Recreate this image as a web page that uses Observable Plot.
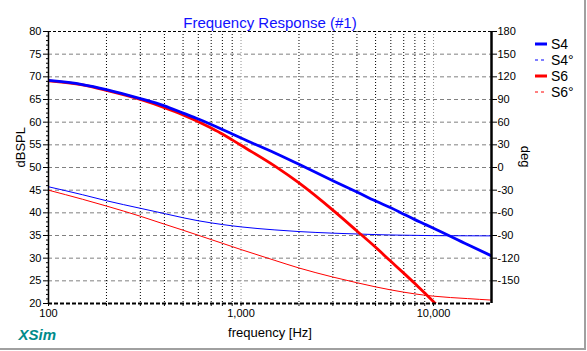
<!DOCTYPE html>
<html><head><meta charset="utf-8">
<script src="https://cdn.jsdelivr.net/npm/d3@7"></script>
<script src="https://cdn.jsdelivr.net/npm/@observablehq/plot@0.6"></script>
<style>
body{margin:0;background:#fff;font-family:Arial,"Liberation Sans",sans-serif}
#wrap{position:relative;width:587px;height:351px;overflow:hidden;background:#fff}
#frame{position:absolute;left:0;top:0;width:584px;height:348px;border-right:2px solid #a0a0a0;border-bottom:2px solid #a0a0a0;pointer-events:none}
.lg{position:absolute;left:535px;font-size:14px;line-height:16px;height:16px;display:flex;align-items:center;color:#000}
.lg svg{margin-right:4px}
</style></head><body>
<div id="wrap"><div id="frame"></div></div>
<script>
// ---- data ----
const freqs = [100,150,200,300,400,500,600,700,800,900,1000,1500,2000,3000,4000,5000,6000,7000,8000,9000,10000,15000,20000];
const s4Mag = [69.2,68.3,67.2,65.2,63.6,62.0,60.7,59.5,58.4,57.4,56.5,53.2,50.7,47.1,44.6,42.6,41.1,39.7,38.5,37.5,36.6,33.0,30.5];
const s4Phase = [-25.5,-36,-44,-54,-61,-66.5,-70.5,-73.3,-75.5,-77.2,-78.6,-82.6,-84.8,-86.9,-88,-88.8,-89.3,-89.6,-89.8,-90,-90.2,-90.4,-90.5];
const s6Phase = [-30,-42,-51,-64.5,-75,-83,-89.7,-95.4,-100.3,-104.7,-108.6,-123,-133,-145,-152.5,-158,-162,-165,-167.3,-169,-170.3,-173.5,-175.5];
const s6Freqs = [100,150,200,300,400,500,600,700,800,900,1000,1500,2000,3000,4000,5000,6000,7000,8000,9000,10000,10500];
const s6Mag = [69.1,68.2,67.0,65.0,63.2,61.6,60.1,58.7,57.4,56.1,54.9,50.3,46.6,40.6,36.0,32.4,29.3,26.7,24.4,22.3,20.4,19.5];

const dbTicks = [20,25,30,35,40,45,50,55,60,65,70,75,80];
const dbMinor = d3.range(20,81,1).filter(d => d % 5 !== 0);
const freqLabels = [100,1000,10000];
const gridFreqs = [200,300,400,500,600,700,800,900,2000,3000,4000,5000,6000,7000,8000,9000];
const decadeFreqs = [1000,10000];
const gridDb = [25,30,35,40,45,50,55,60,65,70,75];

const series = [
  {name:"S4", color:"#0000ff", width:3, dash:null},
  {name:"S4°", color:"#0000ff", width:1, dash:"3,3"},
  {name:"S6", color:"#ff0000", width:3, dash:null},
  {name:"S6°", color:"#ff0000", width:1, dash:"3,3"}
];

// phase (deg) shares the dB scale: -180..180 deg  <->  20..80 dB
const degToDb = d => 50 + d / 6;
const dbToDeg = d => (d - 50) * 6;

const magS4 = freqs.map((f,i) => ({f, v:s4Mag[i]}));
const magS6 = s6Freqs.map((f,i) => ({f, v:s6Mag[i]}));
const phS4 = freqs.map((f,i) => ({f, v:degToDb(s4Phase[i])}));
const phS6 = freqs.map((f,i) => ({f, v:degToDb(s6Phase[i])}));

const font = "Arial, 'Liberation Sans', sans-serif";

const chart = Plot.plot({
  width: 587, height: 351,
  marginLeft: 48, marginRight: 96, marginTop: 31, marginBottom: 48,
  style: {fontFamily: font, fontSize: "11px", color: "#000", background: "transparent", overflow: "visible"},
  x: {type: "log", domain: [100, 20000]},
  y: {domain: [20, 80]},
  marks: [
    Plot.ruleY(gridDb, {stroke: "#808080", strokeDasharray: "4,3", strokeWidth: 1}),
    Plot.ruleX(gridFreqs, {stroke: "#000", strokeDasharray: "1,2", strokeWidth: 1}),
    Plot.ruleX(decadeFreqs, {stroke: "#909090", strokeDasharray: "1,2", strokeWidth: 1}),
    Plot.line(phS6, {x: "f", y: "v", stroke: series[3].color, strokeWidth: 1, curve: "monotone-x", clip: true}),
    Plot.line(phS4, {x: "f", y: "v", stroke: series[1].color, strokeWidth: 1, curve: "monotone-x", clip: true}),
    Plot.line(magS6, {x: "f", y: "v", stroke: series[2].color, strokeWidth: 2.8, curve: "monotone-x", clip: true}),
    Plot.line(magS4, {x: "f", y: "v", stroke: series[0].color, strokeWidth: 2.8, curve: "monotone-x", clip: true}),
    Plot.ruleY([80], {stroke: "#000", strokeDasharray: "3,2", strokeWidth: 1}),
    Plot.ruleY([20], {stroke: "#000", strokeDasharray: "4,2", strokeWidth: 2}),
    Plot.ruleX([100], {stroke: "#000", strokeWidth: 1.5}),
    Plot.ruleX([20000], {stroke: "#000", strokeWidth: 2.5}),
    Plot.axisY(dbTicks, {anchor: "left", tickSize: 5, tickPadding: 2, label: null, tickFormat: d => String(d)}),
    Plot.axisY(dbMinor, {anchor: "left", tickSize: 2, label: null, tickFormat: () => ""}),
    Plot.axisY(dbTicks.filter(d => d > 20), {anchor: "right", tickSize: 5, tickPadding: 1, label: null, tickFormat: d => String(dbToDeg(d))}),
    Plot.axisX(freqLabels, {anchor: "bottom", tickSize: 3, tickPadding: 3, label: null, tickFormat: d3.format(",")}),
    Plot.axisX(gridFreqs, {anchor: "bottom", tickSize: 3, label: null, tickFormat: () => ""}),
    Plot.text(["Frequency Response (#1)"], {frameAnchor: "top", dy: -14, fill: "#1010ff", fontSize: 15}),
    Plot.text(["dBSPL"], {frameAnchor: "left", dx: -28, rotate: -90, fontSize: 13}),
    Plot.text(["deg"], {frameAnchor: "right", dx: 34, rotate: 90, fontSize: 13}),
    Plot.text(["frequency [Hz]"], {frameAnchor: "bottom", dy: 33, fontSize: 13}),
    Plot.text(["XSim"], {frameAnchor: "bottom-left", dx: -30, dy: 36, textAnchor: "start", fill: "#008b8b", fontSize: 15, fontWeight: "bold", fontStyle: "italic"})
  ]
});

const wrap = document.getElementById("wrap");
chart.style.position = "absolute";
chart.style.left = "0px";
chart.style.top = "0px";
wrap.appendChild(chart);

// legend
const legendTops = [36, 52, 68, 84];
series.forEach((s, i) => {
  const div = document.createElement("div");
  div.className = "lg";
  div.style.top = legendTops[i] + "px";
  const dash = s.dash ? ` stroke-dasharray="${s.dash}"` : "";
  div.innerHTML = `<svg width="12" height="6"><line x1="0" x2="12" y1="3" y2="3" stroke="${s.color}" stroke-width="${s.width}"${dash}/></svg><span>${s.name}</span>`;
  wrap.appendChild(div);
});
</script>
</body></html>
